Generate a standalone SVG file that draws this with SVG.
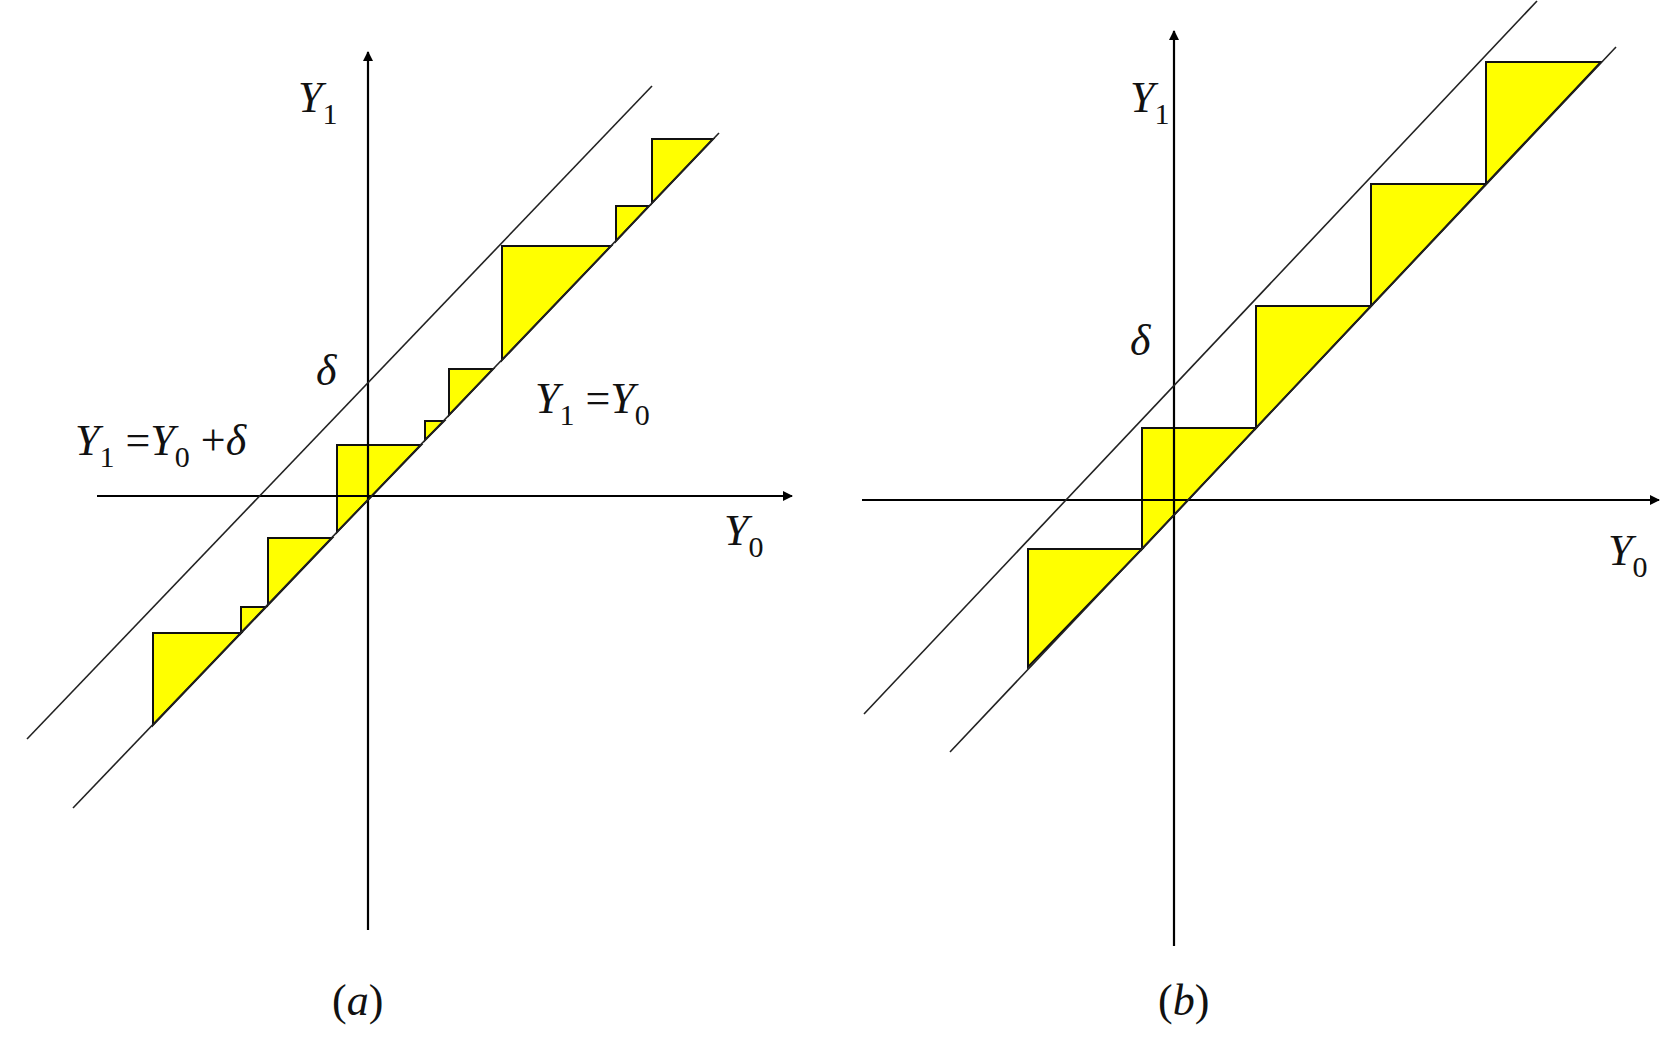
<svg xmlns="http://www.w3.org/2000/svg" width="1680" height="1050" viewBox="0 0 1680 1050">
<style>
.ax{stroke:#000;stroke-width:2.2;fill:none}
.ln{stroke:#222;stroke-width:1.6;fill:none}
.tri{fill:#ffff00;stroke:#111;stroke-width:2}
text{font-family:"Liberation Serif","Times New Roman",serif;font-style:italic;font-size:44px;fill:#111}
.s{font-size:30px;font-style:normal}
.n{font-style:normal}
</style>
<defs>
<marker id="ar" markerWidth="10" markerHeight="10" refX="9" refY="5" orient="auto" markerUnits="userSpaceOnUse" viewBox="0 0 10 10"><path d="M0,0 L10,5 L0,10 z" fill="#000"/></marker>
</defs>
<rect width="1680" height="1050" fill="#fff"/>
<g id="panel-a">
<g id="triangles-a">
<polygon class="tri" points="153,633 241,633 153,725"/>
<polygon class="tri" points="241,607 266,607 241,633"/>
<polygon class="tri" points="268,538 332,538 268,605"/>
<polygon class="tri" points="337,445 421,445 337,532"/>
<polygon class="tri" points="425,421 444,421 425,440"/>
<polygon class="tri" points="449,369 493,369 449,415"/>
<polygon class="tri" points="502,246 611,246 502,360"/>
<polygon class="tri" points="616,206 649,206 616,241"/>
<polygon class="tri" points="652,139 713,139 652,203"/>
</g>
<g id="connectors-a">
<line class="ax" x1="368" y1="930" x2="368" y2="52" marker-end="url(#ar)"/>
<line class="ax" x1="97" y1="496" x2="792" y2="496" marker-end="url(#ar)"/>
<line class="ln" x1="73" y1="808" x2="719" y2="133"/>
<line class="ln" x1="27" y1="739" x2="652" y2="86"/>
</g>
<text x="298" y="112">Y<tspan class="s" dy="12">1</tspan></text>
<text x="316" y="385">δ</text>
<text x="75" y="455">Y<tspan class="s" dy="12">1</tspan><tspan dy="-12" class="n"> =</tspan>Y<tspan class="s" dy="12">0</tspan><tspan dy="-12" class="n"> +</tspan>δ</text>
<text x="535" y="413">Y<tspan class="s" dy="12">1</tspan><tspan dy="-12" class="n"> =</tspan>Y<tspan class="s" dy="12">0</tspan></text>
<text x="724" y="545">Y<tspan class="s" dy="12">0</tspan></text>
<text x="332" y="1015" class="n">(<tspan font-style="italic">a</tspan>)</text>
</g>
<g id="panel-b">
<g id="triangles-b">
<polygon class="tri" points="1028,549 1142,549 1028,667"/>
<polygon class="tri" points="1142,428 1256,428 1142,549"/>
<polygon class="tri" points="1256,306 1371,306 1256,428"/>
<polygon class="tri" points="1371,184 1486,184 1371,306"/>
<polygon class="tri" points="1486,62 1601,62 1486,184"/>
</g>
<g id="connectors-b">
<line class="ax" x1="1174" y1="946" x2="1174" y2="31" marker-end="url(#ar)"/>
<line class="ax" x1="862" y1="500" x2="1659" y2="500" marker-end="url(#ar)"/>
<line class="ln" x1="950" y1="752" x2="1616" y2="47"/>
<line class="ln" x1="864" y1="714" x2="1537" y2="1"/>
</g>
<text x="1130" y="112">Y<tspan class="s" dy="12">1</tspan></text>
<text x="1130" y="355">δ</text>
<text x="1608" y="565">Y<tspan class="s" dy="12">0</tspan></text>
<text x="1158" y="1015" class="n">(<tspan font-style="italic">b</tspan>)</text>
</g>
</svg>
